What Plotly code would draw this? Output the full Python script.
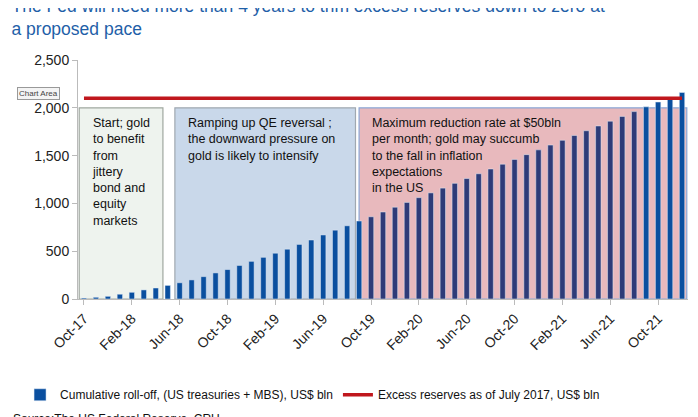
import pandas as pd
import plotly.graph_objects as go

# monthly cumulative roll-off, Oct-17 .. Dec-21, US$ bln
months = pd.date_range("2017-10-01", "2021-12-01", freq="MS").strftime("%b-%y").tolist()
rolloff = [10, 18, 28, 50, 70, 95, 115, 142,
           170, 200, 234, 273, 308, 351, 394, 436, 479, 521, 571, 617, 670, 720, 766, 816,
           860, 910, 960, 1010, 1060, 1110, 1160, 1210, 1260, 1310, 1360, 1410, 1460, 1510,
           1560, 1610, 1660, 1710, 1760, 1810, 1860, 1910, 1960, 2010, 2060, 2110, 2160]
excess_reserves = 2100
tick_labels = months[::4]

box_text = [
    "Start; gold<br>to benefit<br>from<br>jittery<br>bond and<br>equity<br>markets",
    "Ramping up QE reversal ;<br>the downward pressure on<br>gold is likely to intensify",
    "Maximum reduction rate at $50bln<br>per month; gold may succumb<br>to the fall in inflation<br>expectations<br>in the US",
]

# bars inside the red phase look darker (under the tinted box)
bar_colors = ["#0a4f9f" if i < 24 or v > 2000 else "#2e3b78" for i, v in enumerate(rolloff)]

fig = go.Figure()
fig.add_trace(go.Bar(
    x=months, y=rolloff, marker_color=bar_colors, width=0.45,
    name="Cumulative roll-off, (US treasuries + MBS), US$ bln"))
fig.add_trace(go.Scatter(
    x=months, y=[excess_reserves] * len(months), mode="lines",
    line=dict(color="#c0171d", width=3.5),
    name="Excess reserves as of July 2017, US$ bln"))

# shaded phases (category index boundaries)
boxes = [(-0.4, 6.6, "#eef3ee", "#a0a8a0"),
         (7.6, 22.7, "#c9d8ea", "#a0a8b0"),
         (23.0, 50.4, "#e8b9bd", "#8aa8d8")]
for (x0, x1, fill, edge), txt in zip(boxes, box_text):
    fig.add_shape(type="rect", xref="x", yref="y", x0=x0, x1=x1, y0=0, y1=2000,
                  fillcolor=fill, line=dict(color=edge, width=1.2), layer="below")
    fig.add_annotation(x=x0 + 0.9, y=1940, xref="x", yref="y", text=txt,
                       showarrow=False, xanchor="left", yanchor="top", align="left",
                       font=dict(size=12.5, color="#111"))

fig.add_annotation(text="Chart Area", xref="paper", yref="paper", x=-0.1, y=0.885,
                   showarrow=False, font=dict(size=8, color="#444"),
                   bgcolor="#f4f4f4", bordercolor="#999", borderwidth=1)
fig.add_annotation(text="Source:The US Federal Reserve, CRU", xref="paper", yref="paper",
                   x=-0.11, y=-0.5, xanchor="left", yanchor="middle", showarrow=False,
                   font=dict(size=12, color="#111"))

fig.update_layout(
    width=698, height=417,
    margin=dict(l=67, r=18, t=52, b=126),
    title=dict(text="The Fed will need more than 4 years to trim excess reserves down to zero at<br>a proposed pace",
               x=0.005, xanchor="left", y=0.99, yanchor="top",
               font=dict(family="Arial", size=17.5, color="#1f5fa8")),
    font=dict(family="Arial", color="#222"),
    plot_bgcolor="white", paper_bgcolor="white",
    showlegend=True,
    legend=dict(orientation="h", x=-0.095, y=-0.34, xanchor="left", yanchor="top",
                font=dict(size=12, color="#111"), itemwidth=30),
    bargap=0.5,
)
fig.update_xaxes(tickmode="array", tickvals=tick_labels, ticktext=tick_labels,
                 tickangle=-45, tickfont=dict(size=14), showline=True,
                 linecolor="#bbb", ticks="outside", tickcolor="#bbb",
                 range=[-0.5, 50.5])
fig.update_yaxes(range=[0, 2500], dtick=500, tickformat=",", showgrid=False,
                 tickfont=dict(size=14), showline=True, linecolor="#bbb",
                 ticks="outside", tickcolor="#bbb", zeroline=False)

fig.write_html("out.html")
